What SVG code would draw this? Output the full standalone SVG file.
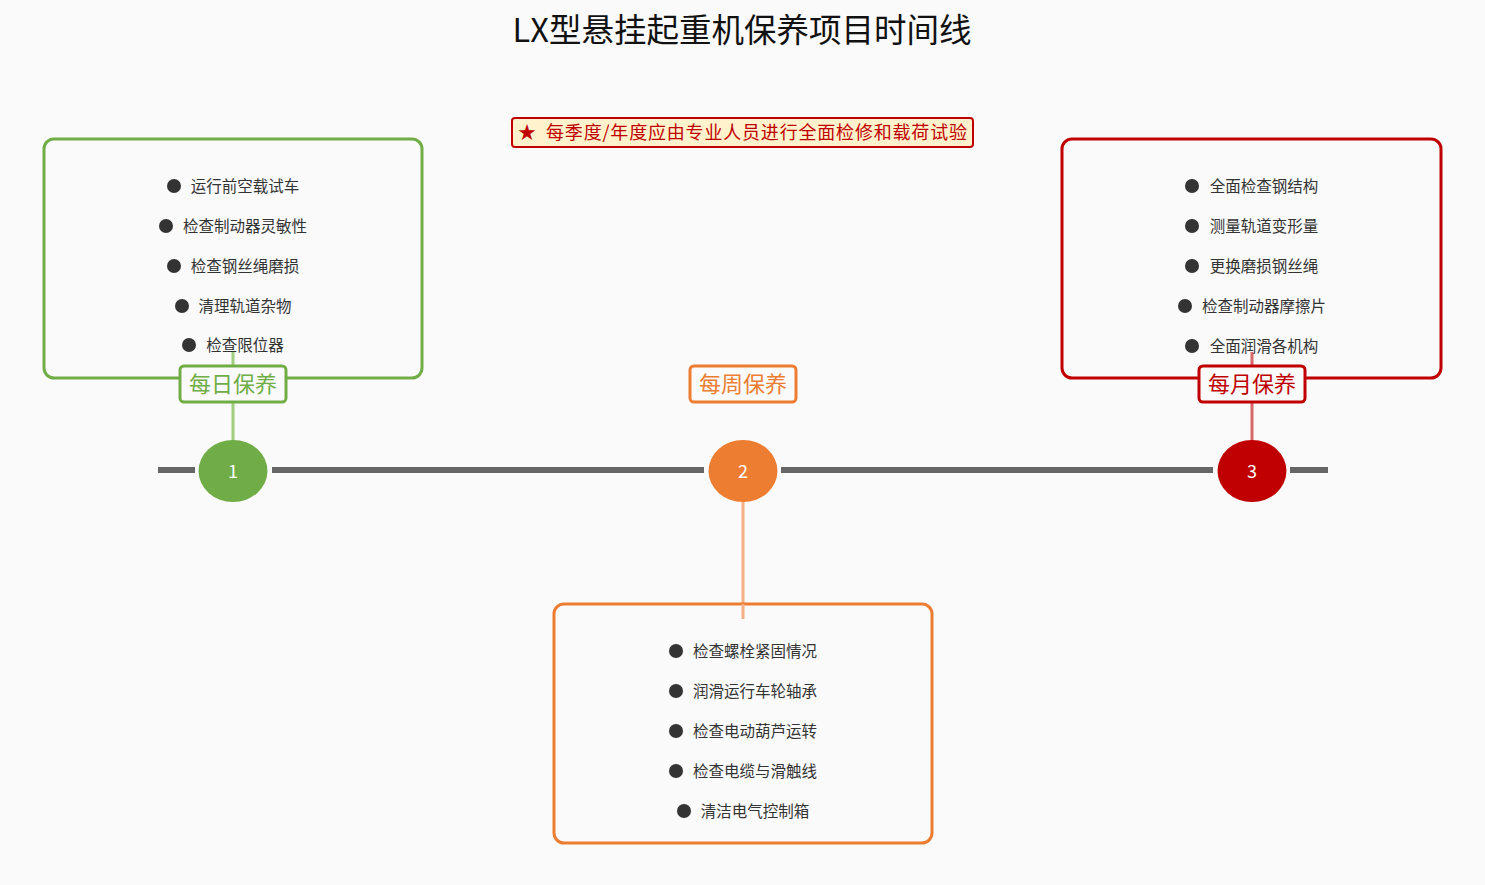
<svg xmlns="http://www.w3.org/2000/svg" width="1485" height="885" viewBox="0 0 1485 885">
<style>
text{font-family:"Noto Sans CJK SC","Noto Sans",sans-serif}
.title{font-size:32.5px;fill:#111;text-anchor:middle}
.note{font-size:18px;fill:#c00000}
.item{font-size:15.5px;fill:#333;text-anchor:middle}
.bul{fill:#333}
.lbl{font-size:22px;text-anchor:middle}
.num{font-size:18px;fill:#fff;text-anchor:middle}
.panel{fill:#fafafa;stroke-width:3}
.tag{fill:#fafafa;stroke-width:3}
.axis{stroke:#666;stroke-width:6}
</style>
<rect width="1485" height="885" fill="#fafafa"/>
<text class="title" x="742" y="42">LX型悬挂起重机保养项目时间线</text>
<g id="note">
<rect x="512" y="118" width="461" height="29" rx="3" fill="#fff2cc" stroke="#c00000" stroke-width="2"/>
<text class="note" x="518" y="139">★</text>
<text class="note" x="546" y="139" textLength="421" lengthAdjust="spacing">每季度/年度应由专业人员进行全面检修和载荷试验</text>
</g>
<g id="connectors">
<line class="axis" x1="158" y1="470" x2="195" y2="470"/>
<line class="axis" x1="272" y1="470" x2="704" y2="470"/>
<line class="axis" x1="781" y1="470" x2="1213" y2="470"/>
<line class="axis" x1="1290" y1="470" x2="1328" y2="470"/>
<line x1="233" y1="352" x2="233" y2="442" stroke="#9fcf7f" stroke-width="3"/>
<line x1="743" y1="500" x2="743" y2="619" stroke="#f4b183" stroke-width="3"/>
<line x1="1252" y1="352" x2="1252" y2="442" stroke="#d9666a" stroke-width="3"/>
</g>
<g id="daily">
<rect class="panel" x="44" y="139" width="378" height="239" rx="10" stroke="#70ad47"/>
<circle class="bul" cx="174" cy="186" r="7"/><text class="item" x="245" y="191.5">运行前空载试车</text>
<circle class="bul" cx="166" cy="226" r="7"/><text class="item" x="245" y="231.5">检查制动器灵敏性</text>
<circle class="bul" cx="174" cy="266" r="7"/><text class="item" x="245" y="271.5">检查钢丝绳磨损</text>
<circle class="bul" cx="182" cy="306" r="7"/><text class="item" x="245" y="311.5">清理轨道杂物</text>
<circle class="bul" cx="189" cy="345" r="7"/><text class="item" x="245" y="350.5">检查限位器</text>
<line x1="233" y1="352" x2="233" y2="366" stroke="#9fcf7f" stroke-width="3"/>
<rect class="tag" x="180" y="366" width="106" height="36" rx="4" stroke="#70ad47"/>
<text class="lbl" x="233" y="392" fill="#70ad47">每日保养</text>
</g>
<g id="weekly">
<rect class="panel" x="554" y="604" width="378" height="239" rx="10" stroke="#ed7d31"/>
<line x1="743" y1="604" x2="743" y2="619" stroke="#f4b183" stroke-width="3"/>
<circle class="bul" cx="676" cy="651" r="7"/><text class="item" x="755" y="656.5">检查螺栓紧固情况</text>
<circle class="bul" cx="676" cy="691" r="7"/><text class="item" x="755" y="696.5">润滑运行车轮轴承</text>
<circle class="bul" cx="676" cy="731" r="7"/><text class="item" x="755" y="736.5">检查电动葫芦运转</text>
<circle class="bul" cx="676" cy="771" r="7"/><text class="item" x="755" y="776.5">检查电缆与滑触线</text>
<circle class="bul" cx="684" cy="811" r="7"/><text class="item" x="755" y="816.5">清洁电气控制箱</text>
<rect class="tag" x="690" y="366" width="106" height="36" rx="4" stroke="#ed7d31"/>
<text class="lbl" x="743" y="392" fill="#ed7d31">每周保养</text>
</g>
<g id="monthly">
<rect class="panel" x="1062" y="139" width="379" height="239" rx="10" stroke="#c00000"/>
<circle class="bul" cx="1192" cy="186" r="7"/><text class="item" x="1264" y="191.5">全面检查钢结构</text>
<circle class="bul" cx="1192" cy="226" r="7"/><text class="item" x="1264" y="231.5">测量轨道变形量</text>
<circle class="bul" cx="1192" cy="266" r="7"/><text class="item" x="1264" y="271.5">更换磨损钢丝绳</text>
<circle class="bul" cx="1185" cy="306" r="7"/><text class="item" x="1264" y="311.5">检查制动器摩擦片</text>
<circle class="bul" cx="1192" cy="346" r="7"/><text class="item" x="1264" y="351.5">全面润滑各机构</text>
<line x1="1252" y1="352" x2="1252" y2="366" stroke="#d9666a" stroke-width="3"/>
<rect class="tag" x="1199" y="366" width="106" height="36" rx="4" stroke="#c00000"/>
<text class="lbl" x="1252" y="392" fill="#c00000">每月保养</text>
</g>
<g id="m1">
<ellipse cx="233" cy="471" rx="34.5" ry="31" fill="#70ad47"/>
<text class="num" x="233" y="477.5">1</text>
</g>
<g id="m2">
<ellipse cx="743" cy="471" rx="34.5" ry="31" fill="#ed7d31"/>
<text class="num" x="743" y="477.5">2</text>
</g>
<g id="m3">
<ellipse cx="1252" cy="471" rx="34.5" ry="31" fill="#c00000"/>
<text class="num" x="1252" y="477.5">3</text>
</g>
</svg>
